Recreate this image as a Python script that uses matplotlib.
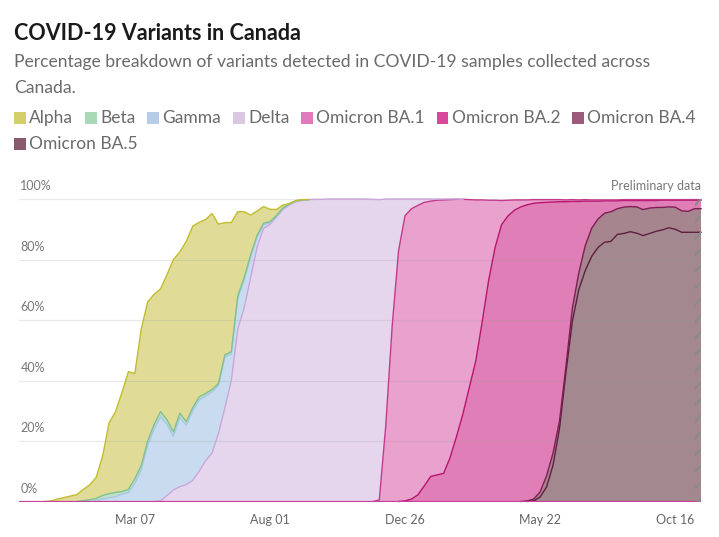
import matplotlib
matplotlib.use("Agg")
import matplotlib.pyplot as plt
from matplotlib.patches import Rectangle
import numpy as np
import pandas as pd

# weekly share of sequenced samples (%), every list starts at its own week
weeks = pd.date_range("2020-11-01", "2022-11-13", freq="7D")

alpha_start = "2020-12-06"
alpha = [0.2, 0.8, 1.3, 1.8, 2.3, 3.7, 4.9, 7.0, 13.0, 23.4, 26.7, 32.7, 38.9, 34.8,
         45, 46, 43, 40.6, 48, 57, 53.3, 59.6, 60, 57.7, 57.5, 58.2, 52.7, 43.7, 42.7,
         27.8, 21.8, 13.2, 8, 5.5, 4.1, 2, 1, 0.2, 0.1, 0.1]

beta_start = "2021-01-10"
beta = [0.3, 0.6, 0.7, 1.2, 1.4, 1.4, 0.9, 1.0, 1.5, 1.5, 1.5, 1.5, 1.7, 1.5, 1.5,
        1.4, 1.2, 1.0, 1.0, 0.9, 0.8, 0.7, 0.7, 0.7, 0.8, 0.7, 0.7, 0.6, 0.5, 0.4,
        0.3, 0.2, 0.2, 0.1, 0.1]

gamma_start = "2021-01-24"
gamma = [0.3, 0.8, 1.2, 1.6, 2.4, 3.0, 6.0, 10.5, 18.5, 24, 27.8, 23.5, 17.7, 22.9,
         19.6, 23, 23.6, 21.3, 20.2, 15.8, 16.8, 8.8, 10.2, 9.3, 6.8, 3.4, 1.2, 0.5,
         0.2, 0.3, 0.1, 0.2, 0.1]

delta_start = "2021-04-04"
delta = [0.2, 2, 3.8, 4.9, 5.6, 7, 10, 13.5, 16, 22.5, 31, 40, 57, 64, 74, 84, 90.3,
         91.6, 94, 96.5, 98, 99.1, 99.5, 99.8, 99.9, 99.9, 100, 100, 100, 100, 100,
         100, 100, 99.9, 99.3, 75, 42, 17, 5.5, 3.2, 2.1, 1.1, 0.7, 0.4, 0.3, 0.2, 0.1]

ba1_start = "2021-11-28"
ba1 = [0.5, 25, 58, 83, 94.3, 96.0, 95.7, 93.7, 91.0, 90.8, 90.4, 85.3, 78.4, 70.9,
       62.0, 53.2, 40.2, 26.4, 15.6, 8.0, 5.2, 3.4, 2.3, 1.6, 1.2, 1.0, 0.9, 0.8, 0.7,
       0.6, 0.6, 0.5, 0.5, 0.4, 0.4, 0.3, 0.3, 0.3, 0.3, 0.3, 0.3, 0.3, 0.3, 0.3, 0.2,
       0.2, 0.2, 0.2, 0.2, 0.2, 0.2]

ba2_start = "2021-12-26"
ba2 = [0.2, 0.8, 2.2, 5.2, 8.3, 8.8, 9.3, 14.5, 21.5, 29, 37.8, 46.5, 59.5, 73.2, 84,
       91.5, 94.4, 96.3, 97.4, 97.9, 97.8, 95.6, 90.4, 83.0, 72.6, 54.6, 35.4, 23.7,
       14.8, 9.0, 5.9, 4.1, 3.6, 2.6, 2.2, 2.0, 2.1, 3.0, 2.5, 2.3, 2.4, 2.2, 2.3, 3.5,
       3.7, 2.8, 2.8]

ba4_start = "2022-05-08"
ba4 = [0.2, 0.6, 1.7, 3.7, 4.0, 2.5, 2.0, 4.3, 5.5, 8.2, 9.3, 9.4, 9.6, 9.8, 8.5, 8.7,
       8.3, 8.7, 8.6, 8.4, 7.9, 7.4, 6.9, 7.3, 7.1, 6.9, 7.8, 7.8]

ba5_start = "2022-05-15"
ba5 = [0.2, 1.5, 4.8, 12, 24, 42.5, 59.5, 70, 76.3, 81, 84, 85.7, 86, 88.3, 88.6, 89.2,
       88.7, 87.9, 88.6, 89.3, 89.8, 90.5, 90.0, 89.0, 89.0, 89.0, 89.0]

variants = ["Alpha", "Beta", "Gamma", "Delta", "Omicron BA.1", "Omicron BA.2",
            "Omicron BA.4", "Omicron BA.5"]
tick_dates = ["2021-03-07", "2021-08-01", "2021-12-26", "2022-05-22", "2022-10-16"]
tick_labels = ["Mar 07", "Aug 01", "Dec 26", "May 22", "Oct 16"]
y_ticks = [0, 20, 40, 60, 80, 100]
prelim_start = "2022-11-06"

swatch_cols = ["#d4cf6a", "#a9d9b7", "#b6cdea", "#dac7e2", "#e07abd", "#d84799", "#9c5a7c", "#8a5a6f"]
area_cols = ["#e0dc98", "#bfe0c4", "#c9dcef", "#e5d6ed", "#e9a1cd", "#e07fb7", "#a7858f", "#a3888f"]
line_cols = ["#c2bd2e", "#7fc28f", "#a9c6e6", "#caa6da", "#c43a8c", "#b8156f", "#7d1e52", "#5e1f3e"]

plt.rcParams["font.family"] = ["Lato", "DejaVu Sans"]
plt.rcParams["hatch.linewidth"] = 1.6


def weekly(start, vals):
    s = pd.Series(vals, index=pd.date_range(start, periods=len(vals), freq="7D"))
    return s.reindex(weeks, fill_value=0.0).to_numpy()


shares = [weekly(alpha_start, alpha), weekly(beta_start, beta), weekly(gamma_start, gamma),
          weekly(delta_start, delta), weekly(ba1_start, ba1), weekly(ba2_start, ba2),
          weekly(ba4_start, ba4), weekly(ba5_start, ba5)]

W, H = 719, 537
fig = plt.figure(figsize=(W / 100, H / 100), dpi=100)
ax = fig.add_axes([19 / W, 1 - 501.5 / H, (701 - 19) / W, (501.5 - 199) / H])

# stack from the bottom: BA.5 ... Alpha
order = list(range(len(shares)))[::-1]
stack = [shares[i] for i in order]
ax.stackplot(weeks, *stack, colors=[area_cols[i] for i in order], lw=0, zorder=1)
tops = np.cumsum(stack, axis=0)
for j, i in enumerate(order):
    on = shares[i] > 0
    show = on | np.r_[on[1:], False] | np.r_[False, on[:-1]]
    ax.plot(weeks, np.ma.masked_where(~show, tops[j]), color=line_cols[i], lw=1.0,
            zorder=4, clip_on=False)
ax.axhline(0, color="#c8409a", lw=1.6, zorder=5)

for v in y_ticks[1:]:
    ax.axhline(v, color="#999999", alpha=0.22, lw=0.9, zorder=3)
for v in y_ticks:
    ax.annotate(f"{v}%", xy=(0, v), xycoords=("axes fraction", "data"), xytext=(1, 5),
                textcoords="offset points", ha="left", va="bottom", fontsize=9, color="#777777")

# preliminary week
ax.fill_between([pd.Timestamp(prelim_start), weeks[-1]], 0, 100, facecolor="none",
                edgecolor="#8a8a8a", hatch="//", lw=0, zorder=6)
ax.annotate("Preliminary data", xy=(1, 100), xycoords=("axes fraction", "data"),
            xytext=(0, 5), textcoords="offset points", ha="right", va="bottom",
            fontsize=9, color="#777777")

ax.set_xlim(weeks[0], weeks[-1])
ax.set_ylim(0, 100)
ax.set_xticks(pd.to_datetime(tick_dates))
ax.set_xticklabels(tick_labels)
ax.set_yticks([])
ax.tick_params(axis="x", length=0, pad=9, labelsize=9, labelcolor="#666666")
for s in ax.spines.values():
    s.set_visible(False)

fig.text(14 / W, 1 - 33 / H, "COVID-19 Variants in Canada", fontsize=15.5, weight="bold",
         color="#1a1a1a", va="center")
fig.text(14 / W, 1 - 62 / H, "Percentage breakdown of variants detected in COVID-19 samples collected across",
         fontsize=12.6, color="#6a6a6a", va="center")
fig.text(14 / W, 1 - 88 / H, "Canada.", fontsize=12.6, color="#6a6a6a", va="center")

# legend, wrapped like the web version
r = fig.canvas.get_renderer()
x, y = 14, 118
for name, col in zip(variants, swatch_cols):
    t = fig.text(0, 0, name, fontsize=12.5, color="#6a6a6a", va="center")
    w = t.get_window_extent(r).width
    if x + 15 + w > 705:
        x, y = 14, y + 26
    fig.add_artist(Rectangle((x / W, 1 - (y + 6) / H), 11.5 / W, 12 / H, color=col,
                             transform=fig.transFigure, lw=0))
    t.set_position(((x + 15) / W, 1 - y / H))
    x += 15 + w + 12

fig.savefig("out.png", dpi=100)
